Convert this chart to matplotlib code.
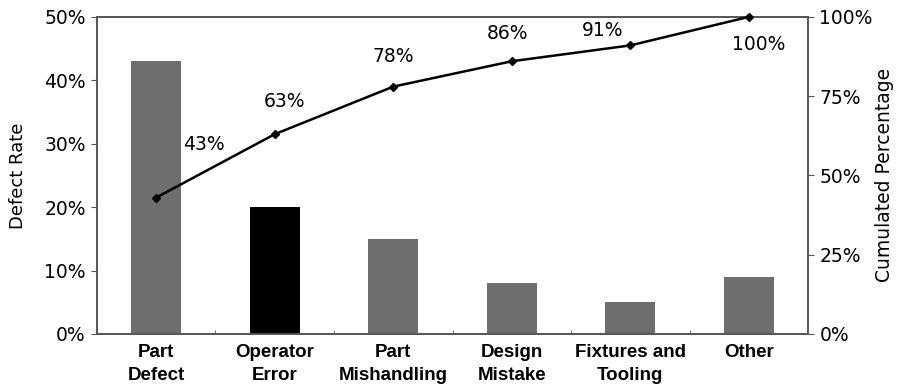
import numpy as np
import matplotlib
matplotlib.use("Agg")
from matplotlib import pyplot as plt

plt.rcParams['font.family'] = ['DejaVu Sans']

categories = ["Part\nDefect", "Operator\nError", "Part\nMishandling",
              "Design\nMistake", "Fixtures and\nTooling", "Other"]
defect_rate = [43, 20, 15, 8, 5, 9]
cumulated = [43, 63, 78, 86, 91, 100]
cum_labels = ["43%", "63%", "78%", "86%", "91%", "100%"]

# label offsets in pixels (dx, dy) relative to each line point
label_offsets = [(48, 53), (10, 33), (0, 30), (-4, 28), (-28, 15), (10, -28)]

gray = "#6e6e6e"
bar_colors = [gray, "black", gray, gray, gray, gray]
fs = 13.5

fig = plt.figure(figsize=(8.97, 3.92), dpi=100)
ax = fig.add_axes([0.108, 0.148, 0.793, 0.809])
x = np.arange(len(categories))

ax.bar(x, defect_rate, width=0.42, color=bar_colors)
ax.set_xlim(-0.5, len(categories) - 0.5)
ax.set_ylim(0, 50)
ax.set_yticks([0, 10, 20, 30, 40, 50])
ax.set_yticklabels([f"{v}%" for v in [0, 10, 20, 30, 40, 50]], fontsize=fs)
ax.set_xticks(x)
ax.set_xticklabels(categories, fontsize=13.5, fontweight="bold",
                   family="Liberation Sans", linespacing=1.45)
ax.tick_params(axis="x", which="major", length=0, pad=7)
ax.set_xticks(np.arange(0.5, len(categories) - 1, 1), minor=True)
ax.tick_params(axis="x", which="minor", direction="in", length=3, color="#555555")
ax.tick_params(axis="y", length=4, color="#555555", pad=4)
ax.set_ylabel("Defect Rate", fontsize=13, labelpad=12)

ax2 = ax.twinx()
ax2.set_ylim(0, 100)
ax2.set_yticks([0, 25, 50, 75, 100])
ax2.set_yticklabels([f"{v}%" for v in [0, 25, 50, 75, 100]], fontsize=fs)
ax2.tick_params(axis="y", length=4, color="#555555", pad=4)
ax2.set_ylabel("Cumulated Percentage", fontsize=13.5, labelpad=2)

ax2.plot(x, cumulated, color="black", linewidth=1.8, marker="D",
         markersize=4, clip_on=False, zorder=5)
for xi, yi, lab, (dx, dy) in zip(x, cumulated, cum_labels, label_offsets):
    ax2.annotate(lab, (xi, yi), xytext=(dx, dy), textcoords="offset pixels",
                 ha="center", va="center", fontsize=fs, annotation_clip=False)

for a in (ax, ax2):
    for s in a.spines.values():
        s.set_color("#555555")
        s.set_linewidth(1.2)

fig.savefig("out.png", dpi=100)
